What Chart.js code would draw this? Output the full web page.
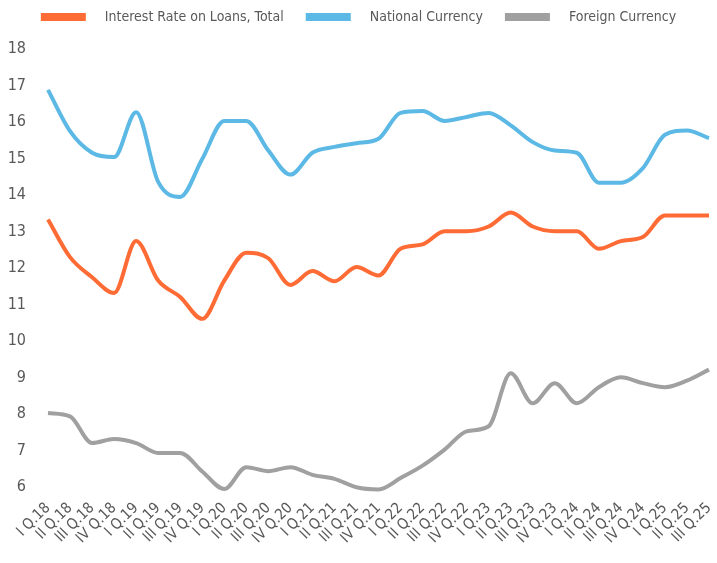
<!DOCTYPE html>
<html>
<head>
<meta charset="utf-8">
<script src="https://cdn.jsdelivr.net/npm/chart.js@4"></script>
<style>
  html, body { margin: 0; padding: 0; background: #ffffff; }
  #wrap { width: 717px; height: 563px; }
</style>
</head>
<body>
<div id="wrap"><canvas id="loanChart"></canvas></div>
<script>
const quarters = [
  'I Q.18', 'II Q.18', 'III Q.18', 'IV Q.18',
  'I Q.19', 'II Q.19', 'III Q.19', 'IV Q.19',
  'I Q.20', 'II Q.20', 'III Q.20', 'IV Q.20',
  'I Q.21', 'II Q.21', 'III Q.21', 'IV Q.21',
  'I Q.22', 'II Q.22', 'III Q.22', 'IV Q.22',
  'I Q.23', 'II Q.23', 'III Q.23', 'IV Q.23',
  'I Q.24', 'II Q.24', 'III Q.24', 'IV Q.24',
  'I Q.25', 'II Q.25', 'III Q.25'
];

const totalRate = [
  13.33, 12.30, 11.75, 11.32, 12.74, 11.66, 11.21, 10.61,
  11.66, 12.42, 12.27, 11.54, 11.92, 11.64, 12.03, 11.80,
  12.53, 12.65, 13.01, 13.01, 13.14, 13.52, 13.14, 13.01,
  13.01, 12.53, 12.74, 12.85, 13.44, 13.44, 13.44
];

const nationalRate = [
  16.88, 15.75, 15.16, 15.04, 16.27, 14.36, 13.95, 14.99,
  16.03, 16.03, 15.22, 14.56, 15.16, 15.32, 15.42, 15.54,
  16.25, 16.30, 16.03, 16.14, 16.25, 15.91, 15.45, 15.22,
  15.16, 14.34, 14.34, 14.74, 15.65, 15.77, 15.56
];

const foreignRate = [
  8.03, 7.94, 7.21, 7.32, 7.21, 6.94, 6.94, 6.43,
  5.95, 6.55, 6.44, 6.55, 6.34, 6.23, 6.00, 5.94,
  6.25, 6.59, 7.03, 7.53, 7.67, 9.12, 8.30, 8.85,
  8.30, 8.74, 9.01, 8.85, 8.74, 8.92, 9.22
];

const yTicks = [6, 7, 8, 9, 10, 11, 12, 13, 14, 15, 16, 17, 18];

const fontFamily = "'DejaVu Sans Condensed', 'Liberation Sans', sans-serif";
const textColor = '#595959';

const makeSeries = (label, values, color) => ({
  label: label,
  data: values,
  borderColor: color,
  backgroundColor: color,
  borderWidth: 4,
  pointRadius: 0,
  pointHoverRadius: 0,
  fill: false,
  clip: false,
  cubicInterpolationMode: 'monotone'
});

// extra room under the legend, like the original
const legendGap = {
  id: 'legendGap',
  beforeInit(chart) {
    const fit = chart.legend.fit;
    chart.legend.fit = function () {
      fit.call(this);
      this.height += 15;
    };
  }
};

const ctx = document.getElementById('loanChart').getContext('2d');

new Chart(ctx, {
  type: 'line',
  data: {
    labels: quarters,
    datasets: [
      makeSeries('Interest Rate on Loans, Total', totalRate, '#ff6b35'),
      makeSeries('National Currency', nationalRate, '#5cb8e4'),
      makeSeries('Foreign Currency', foreignRate, '#a0a0a0')
    ]
  },
  options: {
    responsive: true,
    maintainAspectRatio: false,
    animation: false,
    layout: {
      padding: { left: 8, right: 8, top: 0, bottom: 12 }
    },
    plugins: {
      legend: {
        display: true,
        position: 'top',
        labels: {
          color: textColor,
          boxWidth: 45,
          boxHeight: 8,
          padding: 10,
          font: { family: fontFamily, size: 14 },
          generateLabels: chart => {
            const items = Chart.defaults.plugins.legend.labels.generateLabels(chart);
            return items.map((item, i) => {
              const tail = i < items.length - 1 ? '   ' : '';
              item.text = '   ' + item.text + tail;
              item.lineWidth = 0;
              return item;
            });
          }
        }
      },
      tooltip: { enabled: false }
    },
    scales: {
      x: {
        grid: { display: false },
        border: { display: false },
        afterFit: scale => {
          scale.paddingLeft = 0;
          scale.paddingRight = 0;
        },
        ticks: {
          color: textColor,
          autoSkip: false,
          maxRotation: 45,
          minRotation: 45,
          padding: 4,
          font: { family: fontFamily, size: 15 }
        }
      },
      y: {
        min: 6,
        max: 18,
        grid: { display: false },
        border: { display: false },
        afterBuildTicks: axis => {
          axis.ticks = yTicks.map(v => ({ value: v }));
        },
        afterFit: scale => {
          scale.width = 40;
        },
        ticks: {
          color: textColor,
          padding: 14,
          font: { family: fontFamily, size: 16 }
        }
      }
    }
  },
  plugins: [legendGap]
});
</script>
</body>
</html>
